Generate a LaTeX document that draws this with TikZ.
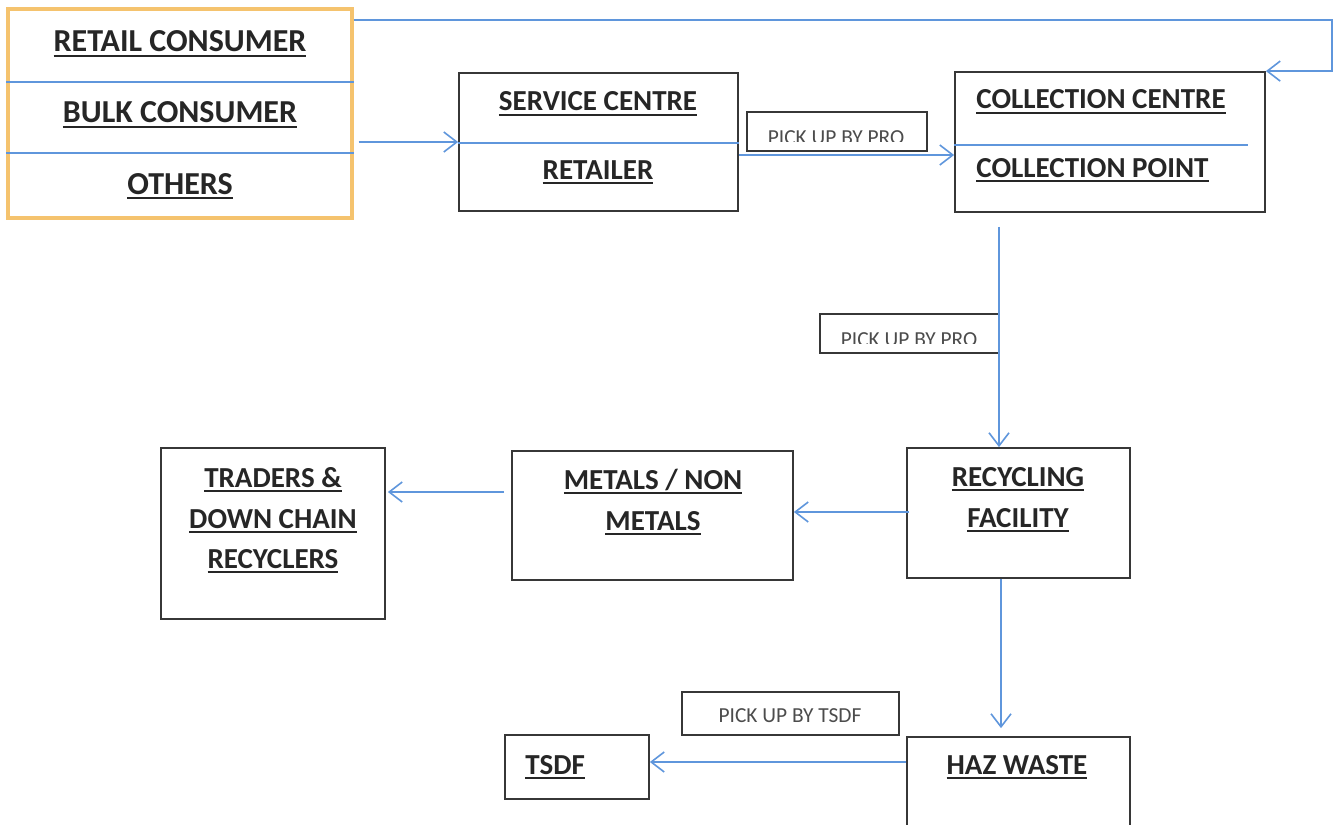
\documentclass[tikz,border=0pt]{standalone}
\usepackage{fontspec}
\setmainfont{Carlito}
\usetikzlibrary{arrows.meta}
\definecolor{flowblue}{RGB}{95,150,220}
\definecolor{boxorange}{RGB}{245,195,110}
\definecolor{boxgray}{RGB}{55,55,55}
\newcommand{\hdr}[1]{\setbox0=\hbox{#1}\rlap{\rule[-2.3pt]{\wd0}{0.9pt}}\box0} % подчёркнутый заголовок
\begin{document}
\begin{tikzpicture}[x=0.5pt,y=-0.5pt] % схема сбора отходов
\tikzstyle{blok} = [draw=boxgray, line width=0.9pt, inner sep=0pt] % box style
\tikzstyle{pick} = [draw=boxgray, line width=0.8pt, inner sep=0pt] % label box style
\tikzstyle{txt} = [anchor=base, inner sep=0pt, text=black!85, font=\fontsize{14.5}{17}\selectfont\bfseries]
\tikzstyle{big} = [txt, font=\fontsize{16}{19}\selectfont\bfseries] % левый блок крупнее
\tikzstyle{small} = [anchor=base, inner sep=0pt, text=black!70, font=\fontsize{10.7}{12}\selectfont]
\tikzstyle{arr} = [draw=flowblue, line width=0.8pt, -{Straight Barb[length=6.5pt,width=10pt]}] % стрелка
\tikzstyle{divider} = [draw=flowblue, line width=0.7pt]
\path[use as bounding box, fill=white] (0,0) rectangle (1337,824);
\clip (0,0) rectangle (1337,824);
% блоки
\node[blok, draw=boxorange, line width=1.6pt, minimum width=172pt, minimum height=104.5pt] (src) at (180,113.5) {};
\node[blok, minimum width=139.5pt, minimum height=69pt] (svc) at (598.5,142) {};
\node[pick, minimum width=90pt, minimum height=19.5pt] (pro1) at (837,131.5) {};
\node[blok, minimum width=155pt, minimum height=70pt] (coll) at (1110,142) {};
\node[pick, minimum width=89.5pt, minimum height=19.5pt] (pro2) at (909.5,333.5) {};
\node[blok, minimum width=111.5pt, minimum height=65pt] (rec) at (1018.5,513) {};
\node[blok, minimum width=140.5pt, minimum height=64.5pt] (met) at (652.5,515.5) {};
\node[blok, minimum width=112pt, minimum height=85.5pt] (trd) at (273,533.5) {};
\node[blok, minimum width=111.5pt, minimum height=46.5pt] (haz) at (1018.5,783.5) {};
\node[blok, minimum width=72pt, minimum height=32pt] (tsdf) at (577,767) {};
\node[pick, minimum width=108.5pt, minimum height=21.5pt] (pkt) at (790.5,713.5) {};
% разделители
\draw[divider] (src.west |- 0,82) -- (src.east |- 0,82);
\draw[divider] (src.west |- 0,153) -- (src.east |- 0,153);
\draw[divider] (svc.west |- 0,143) -- (svc.east |- 0,143);
\draw[divider] (coll.west |- 0,145) -- ([xshift=-9pt]coll.east |- 0,145);
% тексты
\node[big] (retail) at (180,52) {\hdr{RETAIL CONSUMER}};
\node[big] (bulk) at (180,123) {\hdr{BULK CONSUMER}};
\node[big] (others) at (180,194) {\hdr{OTHERS}};
\node[txt] (service) at (598,111) {\hdr{SERVICE CENTRE}};
\node[txt] (retailer) at (598,179) {\hdr{RETAILER}};
\node[txt, anchor=base west] (centre) at (976,109) {\hdr{COLLECTION CENTRE}};
\node[txt, anchor=base west] (point) at (976,177) {\hdr{COLLECTION POINT}};
\node[txt] (recyc) at (1018,486) {\hdr{RECYCLING}};
\node[txt] (facil) at (1018,527) {\hdr{FACILITY}};
\node[txt] (metnon) at (653,489) {\hdr{METALS / NON}};
\node[txt] (metals) at (653,530) {\hdr{METALS}};
\node[txt] (traders) at (273,487) {\hdr{TRADERS \&}};
\node[txt] (chain) at (273,528) {\hdr{DOWN CHAIN}};
\node[txt] (recyclers) at (273,568) {\hdr{RECYCLERS}};
\node[txt] (hazw) at (1017,774) {\hdr{HAZ WASTE}};
\node[txt, anchor=base west] (tsdft) at (525,774) {\hdr{TSDF}};
\begin{scope} % текст обрезан снизу
\clip (pro1.north west) rectangle (927,141);
\node[small] (pro1t) at (836,144) {PICK UP BY PRO};
\end{scope}
\begin{scope}
\clip (pro2.north west) rectangle (999,343);
\node[small] (pro2t) at (909,346) {PICK UP BY PRO};
\end{scope}
\node[small] (pktt) at (790,722) {PICK UP BY TSDF};
% стрелки
\draw[arr] ([xshift=2.5pt]src.east |- svc.west) -- (svc.west);
\draw[arr] (src.east |- 0,20) -| ([xshift=33pt]coll.north east) -- (coll.north east);
\draw[arr] (svc.east |- 0,155) -- (coll.west |- 0,155);
\draw[arr] ([yshift=-7pt]coll.south -| 999,0) -- (rec.north -| 999,0);
\draw[arr] ([xshift=1.5pt]rec.west |- 0,512) -- (met.east |- 0,512);
\draw[arr] ([xshift=-3.5pt]met.west |- 0,492) -- ([xshift=1pt]trd.east |- 0,492);
\draw[arr] (rec.south -| 1001,0) -- ([yshift=4pt]haz.north -| 1001,0);
\draw[arr] (haz.west |- 0,762) -- (tsdf.east |- 0,762);
\end{tikzpicture}
\end{document}
